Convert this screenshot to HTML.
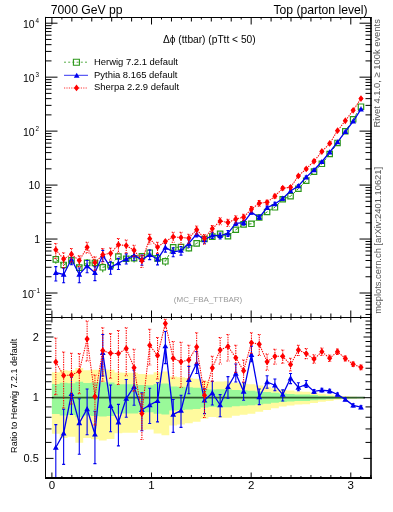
<!DOCTYPE html>
<html><head><meta charset="utf-8"><style>html,body{margin:0;padding:0;background:#fff;width:393px;height:512px;overflow:hidden;position:relative}</style></head>
<body>
<svg width="393" height="512" viewBox="0 0 393 512" style="position:absolute;left:0;top:0;will-change:transform">
<defs><clipPath id="cm"><rect x="45.5" y="17.5" width="326.0" height="300.0"/></clipPath><clipPath id="cr"><rect x="45.5" y="317.5" width="326.0" height="160.0"/></clipPath></defs>
<g clip-path="url(#cr)">
<path d="M51.90 372.23 L59.72 372.23 L59.72 370.15 L67.55 370.15 L67.55 370.83 L75.37 370.83 L75.37 368.09 L83.20 368.09 L83.20 370.21 L91.02 370.21 L91.02 369.69 L98.85 369.69 L98.85 369.09 L106.67 369.09 L106.67 369.76 L114.50 369.76 L114.50 372.45 L122.32 372.45 L122.32 372.76 L130.15 372.76 L130.15 372.70 L137.97 372.70 L137.97 374.12 L145.80 374.12 L145.80 374.43 L153.62 374.43 L153.62 372.32 L161.45 372.32 L161.45 371.46 L169.27 371.46 L169.27 376.61 L177.10 376.61 L177.10 377.21 L184.92 377.21 L184.92 377.90 L192.75 377.90 L192.75 378.80 L200.57 378.80 L200.57 380.75 L208.40 380.75 L208.40 381.83 L216.22 381.83 L216.22 381.43 L224.05 381.43 L224.05 381.35 L231.87 381.35 L231.87 382.74 L239.70 382.74 L239.70 383.43 L247.52 383.43 L247.52 384.13 L255.35 384.13 L255.35 385.58 L263.17 385.58 L263.17 386.85 L271.00 386.85 L271.00 388.22 L278.82 388.22 L278.82 389.68 L286.65 389.68 L286.65 390.48 L294.47 390.48 L294.47 391.45 L302.30 391.45 L302.30 391.63 L310.12 391.63 L310.12 392.60 L317.95 392.60 L317.95 393.82 L325.77 393.82 L325.77 394.55 L333.60 394.55 L333.60 395.58 L341.42 395.58 L341.42 396.21 L349.25 396.21 L349.25 396.80 L357.07 396.80 L357.07 397.05 L364.90 397.05 L364.90 398.35 L357.07 398.35 L357.07 398.60 L349.25 398.60 L349.25 399.21 L341.42 399.21 L341.42 399.87 L333.60 399.87 L333.60 400.97 L325.77 400.97 L325.77 401.76 L317.95 401.76 L317.95 403.11 L310.12 403.11 L310.12 404.22 L302.30 404.22 L302.30 404.43 L294.47 404.43 L294.47 405.57 L286.65 405.57 L286.65 406.53 L278.82 406.53 L278.82 408.34 L271.00 408.34 L271.00 410.09 L263.17 410.09 L263.17 411.77 L255.35 411.77 L255.35 413.76 L247.52 413.76 L247.52 414.76 L239.70 414.76 L239.70 415.75 L231.87 415.75 L231.87 417.83 L224.05 417.83 L224.05 417.70 L216.22 417.70 L216.22 417.10 L208.40 417.10 L208.40 418.74 L200.57 418.74 L200.57 421.84 L192.75 421.84 L192.75 423.32 L184.92 423.32 L184.92 424.50 L177.10 424.50 L177.10 425.54 L169.27 425.54 L169.27 435.34 L161.45 435.34 L161.45 433.59 L153.62 433.59 L153.62 429.49 L145.80 429.49 L145.80 430.08 L137.97 430.08 L137.97 432.83 L130.15 432.83 L130.15 432.71 L122.32 432.71 L122.32 433.33 L114.50 433.33 L114.50 438.98 L106.67 438.98 L106.67 440.46 L98.85 440.46 L98.85 439.14 L91.02 439.14 L91.02 438.00 L83.20 438.00 L83.20 442.77 L75.37 442.77 L75.37 436.67 L67.55 436.67 L67.55 438.12 L59.72 438.12 L59.72 433.76 L51.90 433.76Z" fill="#fffa9e"/>
<path d="M51.90 384.04 L59.72 384.04 L59.72 382.85 L67.55 382.85 L67.55 383.24 L75.37 383.24 L75.37 381.65 L83.20 381.65 L83.20 382.88 L91.02 382.88 L91.02 382.58 L98.85 382.58 L98.85 382.23 L106.67 382.23 L106.67 382.62 L114.50 382.62 L114.50 384.17 L122.32 384.17 L122.32 384.34 L130.15 384.34 L130.15 384.31 L137.97 384.31 L137.97 385.12 L145.80 385.12 L145.80 385.29 L153.62 385.29 L153.62 384.09 L161.45 384.09 L161.45 383.60 L169.27 383.60 L169.27 386.52 L177.10 386.52 L177.10 386.86 L184.92 386.86 L184.92 387.24 L192.75 387.24 L192.75 387.74 L200.57 387.74 L200.57 388.82 L208.40 388.82 L208.40 389.41 L216.22 389.41 L216.22 389.19 L224.05 389.19 L224.05 389.14 L231.87 389.14 L231.87 389.90 L239.70 389.90 L239.70 390.27 L247.52 390.27 L247.52 390.65 L255.35 390.65 L255.35 391.43 L263.17 391.43 L263.17 392.11 L271.00 392.11 L271.00 392.83 L278.82 392.83 L278.82 393.60 L286.65 393.60 L286.65 394.02 L294.47 394.02 L294.47 394.52 L302.30 394.52 L302.30 394.61 L310.12 394.61 L310.12 395.11 L317.95 395.11 L317.95 395.74 L325.77 395.74 L325.77 396.11 L333.60 396.11 L333.60 396.63 L341.42 396.63 L341.42 396.95 L349.25 396.95 L349.25 397.25 L357.07 397.25 L357.07 397.38 L364.90 397.38 L364.90 398.03 L357.07 398.03 L357.07 398.15 L349.25 398.15 L349.25 398.45 L341.42 398.45 L341.42 398.78 L333.60 398.78 L333.60 399.32 L325.77 399.32 L325.77 399.70 L317.95 399.70 L317.95 400.37 L310.12 400.37 L310.12 400.90 L302.30 400.90 L302.30 401.00 L294.47 401.00 L294.47 401.55 L286.65 401.55 L286.65 402.00 L278.82 402.00 L278.82 402.86 L271.00 402.86 L271.00 403.68 L263.17 403.68 L263.17 404.45 L255.35 404.45 L255.35 405.36 L247.52 405.36 L247.52 405.82 L239.70 405.82 L239.70 406.26 L231.87 406.26 L231.87 407.19 L224.05 407.19 L224.05 407.13 L216.22 407.13 L216.22 406.86 L208.40 406.86 L208.40 407.59 L200.57 407.59 L200.57 408.94 L192.75 408.94 L192.75 409.58 L184.92 409.58 L184.92 410.08 L177.10 410.08 L177.10 410.52 L169.27 410.52 L169.27 414.51 L161.45 414.51 L161.45 413.82 L153.62 413.82 L153.62 412.16 L145.80 412.16 L145.80 412.40 L137.97 412.40 L137.97 413.51 L130.15 413.51 L130.15 413.47 L122.32 413.47 L122.32 413.72 L114.50 413.72 L114.50 415.93 L106.67 415.93 L106.67 416.50 L98.85 416.50 L98.85 415.99 L91.02 415.99 L91.02 415.55 L83.20 415.55 L83.20 417.37 L75.37 417.37 L75.37 415.04 L67.55 415.04 L67.55 415.60 L59.72 415.60 L59.72 413.89 L51.90 413.89Z" fill="#99f999"/>
<path d="M51.90 397.7H364.90" stroke="#2f5a2f" stroke-width="1.7"/>
</g>
<g clip-path="url(#cr)">
<path d="M55.81 424.60V478.60M54.31 424.60h3.0M54.31 478.60h3.0M63.64 409.30V464.40M62.14 409.30h3.0M62.14 464.40h3.0M71.46 377.14V414.40M69.96 377.14h3.0M69.96 414.40h3.0M79.29 398.80V454.30M77.79 398.80h3.0M77.79 454.30h3.0M87.11 389.00V434.70M85.61 389.00h3.0M85.61 434.70h3.0M94.94 411.30V463.60M93.44 411.30h3.0M93.44 463.60h3.0M102.76 334.50V375.96M101.26 334.50h3.0M101.26 375.96h3.0M110.59 385.00V431.70M109.09 385.00h3.0M109.09 431.70h3.0M118.41 404.40V445.90M116.91 404.40h3.0M116.91 445.90h3.0M126.24 379.50V417.30M124.74 379.50h3.0M124.74 417.30h3.0M134.06 370.30V405.20M132.56 370.30h3.0M132.56 405.20h3.0M141.89 392.71V430.80M140.39 392.71h3.0M140.39 430.80h3.0M149.71 388.30V423.50M148.21 388.30h3.0M148.21 423.50h3.0M157.54 382.80V421.90M156.04 382.80h3.0M156.04 421.90h3.0M165.36 331.50V363.63M163.86 331.50h3.0M163.86 363.63h3.0M173.19 399.48V432.40M171.69 399.48h3.0M171.69 432.40h3.0M181.01 395.30V427.40M179.51 395.30h3.0M179.51 427.40h3.0M188.84 366.40V393.80M187.34 366.40h3.0M187.34 393.80h3.0M196.66 351.60V373.50M195.16 351.60h3.0M195.16 373.50h3.0M204.49 388.76V413.60M202.99 388.76h3.0M202.99 413.60h3.0M212.31 381.30V405.00M210.81 381.30h3.0M210.81 405.00h3.0M220.14 394.64V416.75M218.64 394.64h3.0M218.64 416.75h3.0M227.96 376.60V398.23M226.46 376.60h3.0M226.46 398.23h3.0M235.79 364.00V382.00M234.29 364.00h3.0M234.29 382.00h3.0M243.61 382.80V400.30M242.11 382.80h3.0M242.11 400.30h3.0M251.44 346.10V361.75M249.94 346.10h3.0M249.94 361.75h3.0M259.26 389.00V404.60M257.76 389.00h3.0M257.76 404.60h3.0M267.09 375.80V388.30M265.59 375.80h3.0M265.59 388.30h3.0M274.91 379.00V390.70M273.41 379.00h3.0M273.41 390.70h3.0M282.74 389.90V401.00M281.24 389.90h3.0M281.24 401.00h3.0M290.56 373.50V383.60M289.06 373.50h3.0M289.06 383.60h3.0M298.39 382.80V390.70M296.89 382.80h3.0M296.89 390.70h3.0M306.21 380.50V387.50M304.71 380.50h3.0M304.71 387.50h3.0M314.03 389.50V393.34M312.53 389.50h3.0M312.53 393.34h3.0M321.86 388.30V391.94M320.36 388.30h3.0M320.36 391.94h3.0M329.68 389.20V392.84M328.18 389.20h3.0M328.18 392.84h3.0M337.51 393.00V396.03M336.01 393.00h3.0M336.01 396.03h3.0M345.33 398.00V400.82M343.83 398.00h3.0M343.83 400.82h3.0M353.16 403.80V406.83M351.66 403.80h3.0M351.66 406.83h3.0M360.98 405.70V408.73M359.48 405.70h3.0M359.48 408.73h3.0" stroke="#0000ee" stroke-width="1.1" fill="none"/>
<path d="M55.81 447.50 L63.64 433.20 L71.46 393.80 L79.29 423.00 L87.11 409.00 L94.94 434.30 L102.76 352.80 L110.59 405.80 L118.41 422.20 L126.24 398.60 L134.06 386.75 L141.89 409.70 L149.71 405.00 L157.54 400.80 L165.36 346.10 L173.19 414.40 L181.01 410.50 L188.84 379.70 L196.66 363.30 L204.49 400.30 L212.31 393.00 L220.14 405.00 L227.96 386.75 L235.79 373.50 L243.61 391.40 L251.44 354.70 L259.26 397.00 L267.09 382.00 L274.91 385.20 L282.74 394.60 L290.56 378.20 L298.39 387.50 L306.21 384.40 L314.03 391.40 L321.86 390.10 L329.68 391.00 L337.51 394.50 L345.33 399.40 L353.16 405.30 L360.98 407.20" stroke="#0000ee" stroke-width="1.3" fill="none"/>
<path d="M52.91 449.76L58.71 449.76L55.81 444.60ZM60.74 435.46L66.54 435.46L63.64 430.30ZM68.56 396.06L74.36 396.06L71.46 390.90ZM76.39 425.26L82.19 425.26L79.29 420.10ZM84.21 411.26L90.01 411.26L87.11 406.10ZM92.04 436.56L97.84 436.56L94.94 431.40ZM99.86 355.06L105.66 355.06L102.76 349.90ZM107.69 408.06L113.49 408.06L110.59 402.90ZM115.51 424.46L121.31 424.46L118.41 419.30ZM123.34 400.86L129.14 400.86L126.24 395.70ZM131.16 389.01L136.96 389.01L134.06 383.85ZM138.99 411.96L144.79 411.96L141.89 406.80ZM146.81 407.26L152.61 407.26L149.71 402.10ZM154.64 403.06L160.44 403.06L157.54 397.90ZM162.46 348.36L168.26 348.36L165.36 343.20ZM170.29 416.66L176.09 416.66L173.19 411.50ZM178.11 412.76L183.91 412.76L181.01 407.60ZM185.94 381.96L191.74 381.96L188.84 376.80ZM193.76 365.56L199.56 365.56L196.66 360.40ZM201.59 402.56L207.39 402.56L204.49 397.40ZM209.41 395.26L215.21 395.26L212.31 390.10ZM217.24 407.26L223.04 407.26L220.14 402.10ZM225.06 389.01L230.86 389.01L227.96 383.85ZM232.89 375.76L238.69 375.76L235.79 370.60ZM240.71 393.66L246.51 393.66L243.61 388.50ZM248.54 356.96L254.34 356.96L251.44 351.80ZM256.36 399.26L262.16 399.26L259.26 394.10ZM264.19 384.26L269.99 384.26L267.09 379.10ZM272.01 387.46L277.81 387.46L274.91 382.30ZM279.84 396.86L285.64 396.86L282.74 391.70ZM287.66 380.46L293.46 380.46L290.56 375.30ZM295.49 389.76L301.29 389.76L298.39 384.60ZM303.31 386.66L309.11 386.66L306.21 381.50ZM311.13 393.66L316.93 393.66L314.03 388.50ZM318.96 392.36L324.76 392.36L321.86 387.20ZM326.78 393.26L332.58 393.26L329.68 388.10ZM334.61 396.76L340.41 396.76L337.51 391.60ZM342.43 401.66L348.23 401.66L345.33 396.50ZM350.26 407.56L356.06 407.56L353.16 402.40ZM358.08 409.46L363.88 409.46L360.98 404.30Z" fill="#0000ee"/>
<path d="M55.81 338.00V394.60M54.31 338.00h3.0M54.31 394.60h3.0M63.64 352.00V408.01M62.14 352.00h3.0M62.14 408.01h3.0M71.46 353.20V404.09M69.96 353.20h3.0M69.96 404.09h3.0M79.29 353.60V393.80M77.79 353.60h3.0M77.79 393.80h3.0M87.11 321.00V361.00M85.61 321.00h3.0M85.61 361.00h3.0M94.94 375.00V425.06M93.44 375.00h3.0M93.44 425.06h3.0M102.76 327.70V381.30M101.26 327.70h3.0M101.26 381.30h3.0M110.59 333.60V378.20M109.09 333.60h3.0M109.09 378.20h3.0M118.41 330.50V384.40M116.91 330.50h3.0M116.91 384.40h3.0M126.24 327.70V375.80M124.74 327.70h3.0M124.74 375.80h3.0M134.06 349.25V391.11M132.56 349.25h3.0M132.56 391.11h3.0M141.89 393.70V439.40M140.39 393.70h3.0M140.39 439.40h3.0M149.71 329.25V364.90M148.21 329.25h3.0M148.21 364.90h3.0M157.54 337.50V379.00M156.04 337.50h3.0M156.04 379.00h3.0M165.36 319.22V328.00M163.86 319.22h3.0M163.86 328.00h3.0M173.19 341.40V378.20M171.69 341.40h3.0M171.69 378.20h3.0M181.01 342.20V387.50M179.51 342.20h3.0M179.51 387.50h3.0M188.84 345.30V379.00M187.34 345.30h3.0M187.34 379.00h3.0M196.66 332.80V363.30M195.16 332.80h3.0M195.16 363.30h3.0M204.49 381.30V417.50M202.99 381.30h3.0M202.99 417.50h3.0M212.31 356.30V381.30M210.81 356.30h3.0M210.81 381.30h3.0M220.14 337.50V364.00M218.64 337.50h3.0M218.64 364.00h3.0M227.96 334.40V361.00M226.46 334.40h3.0M226.46 361.00h3.0M235.79 345.30V372.39M234.29 345.30h3.0M234.29 372.39h3.0M243.61 359.90V382.00M242.11 359.90h3.0M242.11 382.00h3.0M251.44 332.80V353.20M249.94 332.80h3.0M249.94 353.20h3.0M259.26 334.40V355.50M257.76 334.40h3.0M257.76 355.50h3.0M267.09 354.00V370.30M265.59 354.00h3.0M265.59 370.30h3.0M274.91 349.25V364.10M273.41 349.25h3.0M273.41 364.10h3.0M282.74 350.00V363.30M281.24 350.00h3.0M281.24 363.30h3.0M290.56 358.30V371.00M289.06 358.30h3.0M289.06 371.00h3.0M298.39 345.30V355.50M296.89 345.30h3.0M296.89 355.50h3.0M306.21 348.50V358.60M304.71 348.50h3.0M304.71 358.60h3.0M314.03 354.70V363.30M312.53 354.70h3.0M312.53 363.30h3.0M321.86 348.00V355.56M320.36 348.00h3.0M320.36 355.56h3.0M329.68 355.00V361.52M328.18 355.00h3.0M328.18 361.52h3.0M337.51 349.00V354.49M336.01 349.00h3.0M336.01 354.49h3.0M345.33 356.00V360.87M343.83 356.00h3.0M343.83 360.87h3.0M353.16 362.00V366.46M351.66 362.00h3.0M351.66 366.46h3.0M360.98 365.00V369.66M359.48 365.00h3.0M359.48 369.66h3.0" stroke="#ff0000" stroke-width="1.05" stroke-dasharray="1.4 1.0" fill="none"/>
<path d="M55.81 362.00 L63.64 375.60 L71.46 375.00 L79.29 371.40 L87.11 339.00 L94.94 396.50 L102.76 350.60 L110.59 353.20 L118.41 353.60 L126.24 348.50 L134.06 367.70 L141.89 413.60 L149.71 345.30 L157.54 355.50 L165.36 323.50 L173.19 358.30 L181.01 361.75 L188.84 359.90 L196.66 346.90 L204.49 395.30 L212.31 368.00 L220.14 350.00 L227.96 346.40 L235.79 357.80 L243.61 370.80 L251.44 342.70 L259.26 344.25 L267.09 361.75 L274.91 356.30 L282.74 356.30 L290.56 364.60 L298.39 350.00 L306.21 353.60 L314.03 359.00 L321.86 351.70 L329.68 358.20 L337.51 351.70 L345.33 358.40 L353.16 364.20 L360.98 367.30" stroke="#ff0000" stroke-width="1.05" stroke-dasharray="1.4 1.0" fill="none"/>
<path d="M55.81 358.60L58.41 362.00L55.81 365.40L53.21 362.00ZM63.64 372.20L66.24 375.60L63.64 379.00L61.04 375.60ZM71.46 371.60L74.06 375.00L71.46 378.40L68.86 375.00ZM79.29 368.00L81.89 371.40L79.29 374.80L76.69 371.40ZM87.11 335.60L89.71 339.00L87.11 342.40L84.51 339.00ZM94.94 393.10L97.54 396.50L94.94 399.90L92.34 396.50ZM102.76 347.20L105.36 350.60L102.76 354.00L100.16 350.60ZM110.59 349.80L113.19 353.20L110.59 356.60L107.99 353.20ZM118.41 350.20L121.01 353.60L118.41 357.00L115.81 353.60ZM126.24 345.10L128.84 348.50L126.24 351.90L123.64 348.50ZM134.06 364.30L136.66 367.70L134.06 371.10L131.46 367.70ZM141.89 410.20L144.49 413.60L141.89 417.00L139.29 413.60ZM149.71 341.90L152.31 345.30L149.71 348.70L147.11 345.30ZM157.54 352.10L160.14 355.50L157.54 358.90L154.94 355.50ZM165.36 320.10L167.96 323.50L165.36 326.90L162.76 323.50ZM173.19 354.90L175.79 358.30L173.19 361.70L170.59 358.30ZM181.01 358.35L183.61 361.75L181.01 365.15L178.41 361.75ZM188.84 356.50L191.44 359.90L188.84 363.30L186.24 359.90ZM196.66 343.50L199.26 346.90L196.66 350.30L194.06 346.90ZM204.49 391.90L207.09 395.30L204.49 398.70L201.89 395.30ZM212.31 364.60L214.91 368.00L212.31 371.40L209.71 368.00ZM220.14 346.60L222.74 350.00L220.14 353.40L217.54 350.00ZM227.96 343.00L230.56 346.40L227.96 349.80L225.36 346.40ZM235.79 354.40L238.39 357.80L235.79 361.20L233.19 357.80ZM243.61 367.40L246.21 370.80L243.61 374.20L241.01 370.80ZM251.44 339.30L254.04 342.70L251.44 346.10L248.84 342.70ZM259.26 340.85L261.86 344.25L259.26 347.65L256.66 344.25ZM267.09 358.35L269.69 361.75L267.09 365.15L264.49 361.75ZM274.91 352.90L277.51 356.30L274.91 359.70L272.31 356.30ZM282.74 352.90L285.34 356.30L282.74 359.70L280.14 356.30ZM290.56 361.20L293.16 364.60L290.56 368.00L287.96 364.60ZM298.39 346.60L300.99 350.00L298.39 353.40L295.79 350.00ZM306.21 350.20L308.81 353.60L306.21 357.00L303.61 353.60ZM314.03 355.60L316.63 359.00L314.03 362.40L311.43 359.00ZM321.86 348.30L324.46 351.70L321.86 355.10L319.26 351.70ZM329.68 354.80L332.28 358.20L329.68 361.60L327.08 358.20ZM337.51 348.30L340.11 351.70L337.51 355.10L334.91 351.70ZM345.33 355.00L347.93 358.40L345.33 361.80L342.73 358.40ZM353.16 360.80L355.76 364.20L353.16 367.60L350.56 364.20ZM360.98 363.90L363.58 367.30L360.98 370.70L358.38 367.30Z" fill="#ff0000"/>
</g>
<g clip-path="url(#cm)">
<path d="M55.81 255.72V256.68M55.81 262.08V263.71M63.64 260.96V262.24M63.64 267.64V269.73M71.46 256.47V257.64M71.46 263.04V264.98M79.29 263.36V264.96M79.29 270.36V272.92M87.11 258.90V260.16M87.11 265.56V267.64M94.94 258.89V260.24M94.94 265.64V267.84M102.76 263.17V264.61M102.76 270.01V272.34M110.59 261.18V262.51M110.59 267.91V270.09M118.41 252.93V253.85M118.41 259.25V260.84M126.24 255.20V256.08M126.24 261.48V263.00M134.06 254.67V255.55M134.06 260.95V262.49M141.89 253.04V253.71M141.89 259.11V260.35M149.71 249.37V249.99M149.71 255.39V256.56M157.54 254.75V255.69M157.54 261.09V262.70M165.36 257.52V258.59M165.36 263.99V265.79M173.19 244.40V244.69M173.19 250.09V250.82M181.01 244.26V244.47M181.01 249.87V250.48M188.84 245.41V245.51M188.84 250.91V251.39M196.66 246.03V246.34" stroke="#2b9718" stroke-width="1.1" fill="none"/>
<path d="M55.81 259.38 L63.64 264.94 L71.46 260.34 L79.29 267.66 L87.11 262.86 L94.94 262.94 L102.76 267.31 L110.59 265.21 L118.41 256.55 L126.24 258.78 L134.06 258.25 L141.89 256.41 L149.71 252.69 L157.54 258.39 L165.36 261.29 L173.19 247.39 L181.01 247.17 L188.84 248.21 L196.66 243.33 L204.49 239.02 L212.31 236.60 L220.14 233.80 L227.96 236.22 L235.79 229.75 L243.61 224.40 L251.44 223.81 L259.26 217.50 L267.09 211.94 L274.91 207.28 L282.74 199.27 L290.56 196.19 L298.39 188.70 L306.21 180.69 L314.03 171.61 L321.86 163.82 L329.68 154.02 L337.51 142.96 L345.33 131.25 L353.16 119.31 L360.98 106.70" stroke="#2b9718" stroke-width="1" stroke-dasharray="3 2" fill="none"/>
<path d="M53.11 256.68h5.40v5.40h-5.40ZM60.94 262.24h5.40v5.40h-5.40ZM68.76 257.64h5.40v5.40h-5.40ZM76.59 264.96h5.40v5.40h-5.40ZM84.41 260.16h5.40v5.40h-5.40ZM92.24 260.24h5.40v5.40h-5.40ZM100.06 264.61h5.40v5.40h-5.40ZM107.89 262.51h5.40v5.40h-5.40ZM115.71 253.85h5.40v5.40h-5.40ZM123.54 256.08h5.40v5.40h-5.40ZM131.36 255.55h5.40v5.40h-5.40ZM139.19 253.71h5.40v5.40h-5.40ZM147.01 249.99h5.40v5.40h-5.40ZM154.84 255.69h5.40v5.40h-5.40ZM162.66 258.59h5.40v5.40h-5.40ZM170.49 244.69h5.40v5.40h-5.40ZM178.31 244.47h5.40v5.40h-5.40ZM186.14 245.51h5.40v5.40h-5.40ZM193.96 240.63h5.40v5.40h-5.40ZM201.79 236.32h5.40v5.40h-5.40ZM209.61 233.90h5.40v5.40h-5.40ZM217.44 231.10h5.40v5.40h-5.40ZM225.26 233.52h5.40v5.40h-5.40ZM233.09 227.05h5.40v5.40h-5.40ZM240.91 221.70h5.40v5.40h-5.40ZM248.74 221.11h5.40v5.40h-5.40ZM256.56 214.80h5.40v5.40h-5.40ZM264.39 209.24h5.40v5.40h-5.40ZM272.21 204.58h5.40v5.40h-5.40ZM280.04 196.57h5.40v5.40h-5.40ZM287.86 193.49h5.40v5.40h-5.40ZM295.69 186.00h5.40v5.40h-5.40ZM303.51 177.99h5.40v5.40h-5.40ZM311.33 168.91h5.40v5.40h-5.40ZM319.16 161.12h5.40v5.40h-5.40ZM326.98 151.32h5.40v5.40h-5.40ZM334.81 140.26h5.40v5.40h-5.40ZM342.63 128.55h5.40v5.40h-5.40ZM350.46 116.61h5.40v5.40h-5.40ZM358.28 104.00h5.40v5.40h-5.40Z" stroke="#2b9718" stroke-width="1.2" fill="none"/>
<path d="M55.81 266.58V281.03M54.31 266.58h3.0M54.31 281.03h3.0M63.64 268.04V282.79M62.14 268.04h3.0M62.14 282.79h3.0M71.46 254.84V264.81M69.96 254.84h3.0M69.96 264.81h3.0M79.29 267.95V282.81M77.79 267.95h3.0M77.79 282.81h3.0M87.11 260.53V272.77M85.61 260.53h3.0M85.61 272.77h3.0M94.94 266.58V280.58M93.44 266.58h3.0M93.44 280.58h3.0M102.76 250.39V261.49M101.26 250.39h3.0M101.26 261.49h3.0M110.59 261.81V274.31M109.09 261.81h3.0M109.09 274.31h3.0M118.41 258.34V269.45M116.91 258.34h3.0M116.91 269.45h3.0M126.24 253.90V264.02M124.74 253.90h3.0M124.74 264.02h3.0M134.06 250.92V260.26M132.56 250.92h3.0M132.56 260.26h3.0M141.89 255.08V265.27M140.39 255.08h3.0M140.39 265.27h3.0M149.71 250.17V259.60M148.21 250.17h3.0M148.21 259.60h3.0M157.54 254.40V264.87M156.04 254.40h3.0M156.04 264.87h3.0M165.36 243.57V252.17M163.86 243.57h3.0M163.86 252.17h3.0M173.19 247.87V256.68M171.69 247.87h3.0M171.69 256.68h3.0M181.01 246.52V255.11M179.51 246.52h3.0M179.51 255.11h3.0M188.84 239.83V247.17M187.34 239.83h3.0M187.34 247.17h3.0M196.66 231.00V236.86M195.16 231.00h3.0M195.16 236.86h3.0M204.49 236.62V243.27M202.99 236.62h3.0M202.99 243.27h3.0M212.31 232.21V238.56M210.81 232.21h3.0M210.81 238.56h3.0M220.14 232.99V238.90M218.64 232.99h3.0M218.64 238.90h3.0M227.96 230.57V236.36M226.46 230.57h3.0M226.46 236.36h3.0M235.79 220.73V225.55M234.29 220.73h3.0M234.29 225.55h3.0M243.61 220.41V225.09M242.11 220.41h3.0M242.11 225.09h3.0M251.44 210.00V214.19M249.94 210.00h3.0M249.94 214.19h3.0M259.26 215.17V219.34M257.76 215.17h3.0M257.76 219.34h3.0M267.09 206.08V209.43M265.59 206.08h3.0M265.59 209.43h3.0M274.91 202.27V205.40M273.41 202.27h3.0M273.41 205.40h3.0M282.74 197.18V200.15M281.24 197.18h3.0M281.24 200.15h3.0M290.56 189.72V192.42M289.06 189.72h3.0M289.06 192.42h3.0M298.39 184.71V186.83M296.89 184.71h3.0M296.89 186.83h3.0M306.21 176.08V177.96M304.71 176.08h3.0M304.71 177.96h3.0M314.03 169.42V170.45M312.53 169.42h3.0M312.53 170.45h3.0M321.86 161.30V162.27M320.36 161.30h3.0M320.36 162.27h3.0M329.68 151.75V152.72M328.18 151.75h3.0M328.18 152.72h3.0M337.51 141.70V142.51M336.01 141.70h3.0M336.01 142.51h3.0M345.33 131.33V132.09M343.83 131.33h3.0M343.83 132.09h3.0M353.16 120.94V121.75M351.66 120.94h3.0M351.66 121.75h3.0M360.98 108.84V109.65M359.48 108.84h3.0M359.48 109.65h3.0" stroke="#0000ee" stroke-width="1.1" fill="none"/>
<path d="M55.81 272.70 L63.64 274.44 L71.46 259.30 L79.29 274.43 L87.11 265.89 L94.94 272.74 L102.76 255.29 L110.59 267.38 L118.41 263.11 L126.24 259.02 L134.06 255.32 L141.89 259.62 L149.71 254.64 L157.54 259.22 L165.36 247.48 L173.19 251.86 L181.01 250.59 L188.84 243.39 L196.66 234.13 L204.49 239.71 L212.31 235.34 L220.14 235.76 L227.96 233.29 L235.79 223.27 L243.61 222.71 L251.44 212.30 L259.26 217.31 L267.09 207.74 L274.91 203.93 L282.74 198.44 L290.56 190.97 L298.39 185.97 L306.21 177.13 L314.03 169.93 L321.86 161.78 L329.68 152.23 L337.51 142.10 L345.33 131.71 L353.16 121.34 L360.98 109.24" stroke="#0000ee" stroke-width="1.3" fill="none"/>
<path d="M52.91 274.97L58.71 274.97L55.81 269.80ZM60.74 276.70L66.54 276.70L63.64 271.54ZM68.56 261.56L74.36 261.56L71.46 256.40ZM76.39 276.69L82.19 276.69L79.29 271.53ZM84.21 268.15L90.01 268.15L87.11 262.99ZM92.04 275.00L97.84 275.00L94.94 269.84ZM99.86 257.55L105.66 257.55L102.76 252.39ZM107.69 269.64L113.49 269.64L110.59 264.48ZM115.51 265.37L121.31 265.37L118.41 260.21ZM123.34 261.28L129.14 261.28L126.24 256.12ZM131.16 257.58L136.96 257.58L134.06 252.42ZM138.99 261.88L144.79 261.88L141.89 256.72ZM146.81 256.91L152.61 256.91L149.71 251.74ZM154.64 261.48L160.44 261.48L157.54 256.32ZM162.46 249.74L168.26 249.74L165.36 244.58ZM170.29 254.12L176.09 254.12L173.19 248.96ZM178.11 252.85L183.91 252.85L181.01 247.69ZM185.94 245.66L191.74 245.66L188.84 240.49ZM193.76 236.39L199.56 236.39L196.66 231.23ZM201.59 241.97L207.39 241.97L204.49 236.81ZM209.41 237.61L215.21 237.61L212.31 232.44ZM217.24 238.02L223.04 238.02L220.14 232.86ZM225.06 235.55L230.86 235.55L227.96 230.39ZM232.89 225.54L238.69 225.54L235.79 220.37ZM240.71 224.97L246.51 224.97L243.61 219.81ZM248.54 214.56L254.34 214.56L251.44 209.40ZM256.36 219.57L262.16 219.57L259.26 214.41ZM264.19 210.00L269.99 210.00L267.09 204.84ZM272.01 206.19L277.81 206.19L274.91 201.03ZM279.84 200.70L285.64 200.70L282.74 195.54ZM287.66 193.24L293.46 193.24L290.56 188.07ZM295.49 188.23L301.29 188.23L298.39 183.07ZM303.31 179.39L309.11 179.39L306.21 174.23ZM311.13 172.19L316.93 172.19L314.03 167.03ZM318.96 164.04L324.76 164.04L321.86 158.88ZM326.78 154.49L332.58 154.49L329.68 149.33ZM334.61 144.36L340.41 144.36L337.51 139.20ZM342.43 133.97L348.23 133.97L345.33 128.81ZM350.26 123.61L356.06 123.61L353.16 118.44ZM358.08 111.50L363.88 111.50L360.98 106.34Z" fill="#0000ee"/>
<path d="M55.81 243.40V258.55M54.31 243.40h3.0M54.31 258.55h3.0M63.64 252.71V267.70M62.14 252.71h3.0M62.14 267.70h3.0M71.46 248.43V262.05M69.96 248.43h3.0M69.96 262.05h3.0M79.29 255.85V266.61M77.79 255.85h3.0M77.79 266.61h3.0M87.11 242.33V253.04M85.61 242.33h3.0M85.61 253.04h3.0M94.94 256.87V270.26M93.44 256.87h3.0M93.44 270.26h3.0M102.76 248.57V262.92M101.26 248.57h3.0M101.26 262.92h3.0M110.59 248.06V259.99M109.09 248.06h3.0M109.09 259.99h3.0M118.41 238.56V252.99M116.91 238.56h3.0M116.91 252.99h3.0M126.24 240.04V252.91M124.74 240.04h3.0M124.74 252.91h3.0M134.06 245.29V256.49M132.56 245.29h3.0M132.56 256.49h3.0M141.89 255.34V267.57M140.39 255.34h3.0M140.39 267.57h3.0M149.71 234.37V243.91M148.21 234.37h3.0M148.21 243.91h3.0M157.54 242.28V253.38M156.04 242.28h3.0M156.04 253.38h3.0M165.36 240.28V242.63M163.86 240.28h3.0M163.86 242.63h3.0M173.19 232.32V242.17M171.69 232.32h3.0M171.69 242.17h3.0M181.01 232.31V244.44M179.51 232.31h3.0M179.51 244.44h3.0M188.84 234.19V243.21M187.34 234.19h3.0M187.34 243.21h3.0M196.66 225.96V234.13M195.16 225.96h3.0M195.16 234.13h3.0M204.49 234.63V244.32M202.99 234.63h3.0M202.99 244.32h3.0M212.31 225.52V232.21M210.81 225.52h3.0M210.81 232.21h3.0M220.14 217.69V224.78M218.64 217.69h3.0M218.64 224.78h3.0M227.96 219.28V226.40M226.46 219.28h3.0M226.46 226.40h3.0M235.79 215.73V222.98M234.29 215.73h3.0M234.29 222.98h3.0M243.61 214.28V220.19M242.11 214.28h3.0M242.11 220.19h3.0M251.44 206.44V211.90M249.94 206.44h3.0M249.94 211.90h3.0M259.26 200.56V206.20M257.76 200.56h3.0M257.76 206.20h3.0M267.09 200.24V204.61M265.59 200.24h3.0M265.59 204.61h3.0M274.91 194.31V198.28M273.41 194.31h3.0M273.41 198.28h3.0M282.74 186.50V190.06M281.24 186.50h3.0M281.24 190.06h3.0M290.56 185.65V189.05M289.06 185.65h3.0M289.06 189.05h3.0M298.39 174.67V177.40M296.89 174.67h3.0M296.89 177.40h3.0M306.21 167.52V170.22M304.71 167.52h3.0M304.71 170.22h3.0M314.03 160.11V162.41M312.53 160.11h3.0M312.53 162.41h3.0M321.86 150.51V152.54M320.36 150.51h3.0M320.36 152.54h3.0M329.68 142.59V144.34M328.18 142.59h3.0M328.18 144.34h3.0M337.51 129.92V131.39M336.01 129.92h3.0M336.01 131.39h3.0M345.33 120.09V121.40M343.83 120.09h3.0M343.83 121.40h3.0M353.16 109.76V110.95M351.66 109.76h3.0M351.66 110.95h3.0M360.98 97.95V99.19M359.48 97.95h3.0M359.48 99.19h3.0" stroke="#ff0000" stroke-width="1.05" stroke-dasharray="1.4 1.0" fill="none"/>
<path d="M55.81 249.82 L63.64 259.02 L71.46 254.26 L79.29 260.62 L87.11 247.15 L94.94 262.62 L102.76 254.70 L110.59 253.30 L118.41 244.74 L126.24 245.61 L134.06 250.22 L141.89 260.67 L149.71 238.67 L157.54 247.09 L165.36 241.43 L173.19 236.85 L181.01 237.54 L188.84 238.09 L196.66 229.74 L204.49 238.37 L212.31 228.65 L220.14 221.04 L227.96 222.49 L235.79 219.07 L243.61 217.20 L251.44 209.09 L259.26 203.19 L267.09 202.32 L274.91 196.19 L282.74 188.19 L290.56 187.33 L298.39 175.93 L306.21 168.88 L314.03 161.26 L321.86 151.50 L329.68 143.45 L337.51 130.64 L345.33 120.74 L353.16 110.34 L360.98 98.56" stroke="#ff0000" stroke-width="1.05" stroke-dasharray="1.4 1.0" fill="none"/>
<path d="M55.81 246.42L58.41 249.82L55.81 253.22L53.21 249.82ZM63.64 255.62L66.24 259.02L63.64 262.42L61.04 259.02ZM71.46 250.86L74.06 254.26L71.46 257.66L68.86 254.26ZM79.29 257.22L81.89 260.62L79.29 264.02L76.69 260.62ZM87.11 243.75L89.71 247.15L87.11 250.55L84.51 247.15ZM94.94 259.22L97.54 262.62L94.94 266.02L92.34 262.62ZM102.76 251.30L105.36 254.70L102.76 258.10L100.16 254.70ZM110.59 249.90L113.19 253.30L110.59 256.70L107.99 253.30ZM118.41 241.34L121.01 244.74L118.41 248.14L115.81 244.74ZM126.24 242.21L128.84 245.61L126.24 249.01L123.64 245.61ZM134.06 246.82L136.66 250.22L134.06 253.62L131.46 250.22ZM141.89 257.27L144.49 260.67L141.89 264.07L139.29 260.67ZM149.71 235.27L152.31 238.67L149.71 242.07L147.11 238.67ZM157.54 243.69L160.14 247.09L157.54 250.49L154.94 247.09ZM165.36 238.03L167.96 241.43L165.36 244.83L162.76 241.43ZM173.19 233.45L175.79 236.85L173.19 240.25L170.59 236.85ZM181.01 234.14L183.61 237.54L181.01 240.94L178.41 237.54ZM188.84 234.69L191.44 238.09L188.84 241.49L186.24 238.09ZM196.66 226.34L199.26 229.74L196.66 233.14L194.06 229.74ZM204.49 234.97L207.09 238.37L204.49 241.77L201.89 238.37ZM212.31 225.25L214.91 228.65L212.31 232.05L209.71 228.65ZM220.14 217.64L222.74 221.04L220.14 224.44L217.54 221.04ZM227.96 219.09L230.56 222.49L227.96 225.89L225.36 222.49ZM235.79 215.67L238.39 219.07L235.79 222.47L233.19 219.07ZM243.61 213.80L246.21 217.20L243.61 220.60L241.01 217.20ZM251.44 205.69L254.04 209.09L251.44 212.49L248.84 209.09ZM259.26 199.79L261.86 203.19L259.26 206.59L256.66 203.19ZM267.09 198.92L269.69 202.32L267.09 205.72L264.49 202.32ZM274.91 192.79L277.51 196.19L274.91 199.59L272.31 196.19ZM282.74 184.79L285.34 188.19L282.74 191.59L280.14 188.19ZM290.56 183.93L293.16 187.33L290.56 190.73L287.96 187.33ZM298.39 172.53L300.99 175.93L298.39 179.33L295.79 175.93ZM306.21 165.48L308.81 168.88L306.21 172.28L303.61 168.88ZM314.03 157.86L316.63 161.26L314.03 164.66L311.43 161.26ZM321.86 148.10L324.46 151.50L321.86 154.90L319.26 151.50ZM329.68 140.05L332.28 143.45L329.68 146.85L327.08 143.45ZM337.51 127.24L340.11 130.64L337.51 134.04L334.91 130.64ZM345.33 117.34L347.93 120.74L345.33 124.14L342.73 120.74ZM353.16 106.94L355.76 110.34L353.16 113.74L350.56 110.34ZM360.98 95.16L363.58 98.56L360.98 101.96L358.38 98.56Z" fill="#ff0000"/>
</g>
<g stroke="#000" stroke-width="1" fill="none">
<path d="M45.5 17.5H371.6M45.5 317.5H371.6M45.5 16.9V479"/>
<path d="M371 16.9V479" stroke-width="1.7" stroke="#111"/>
<path d="M45 478H372" stroke-width="2"/>
<path d="M51.90 17.5v7M51.90 317.5v-7M51.90 317.5v5M51.90 477.5v-5M61.86 17.5v2M61.86 317.5v-2M61.86 317.5v1.5M61.86 477.5v-1.5M71.83 17.5v4M71.83 317.5v-4M71.83 317.5v2.5M71.83 477.5v-2.5M81.79 17.5v2M81.79 317.5v-2M81.79 317.5v1.5M81.79 477.5v-1.5M91.75 17.5v4M91.75 317.5v-4M91.75 317.5v2.5M91.75 477.5v-2.5M101.72 17.5v2M101.72 317.5v-2M101.72 317.5v1.5M101.72 477.5v-1.5M111.68 17.5v4M111.68 317.5v-4M111.68 317.5v2.5M111.68 477.5v-2.5M121.64 17.5v2M121.64 317.5v-2M121.64 317.5v1.5M121.64 477.5v-1.5M131.60 17.5v4M131.60 317.5v-4M131.60 317.5v2.5M131.60 477.5v-2.5M141.57 17.5v2M141.57 317.5v-2M141.57 317.5v1.5M141.57 477.5v-1.5M151.53 17.5v7M151.53 317.5v-7M151.53 317.5v5M151.53 477.5v-5M161.49 17.5v2M161.49 317.5v-2M161.49 317.5v1.5M161.49 477.5v-1.5M171.46 17.5v4M171.46 317.5v-4M171.46 317.5v2.5M171.46 477.5v-2.5M181.42 17.5v2M181.42 317.5v-2M181.42 317.5v1.5M181.42 477.5v-1.5M191.38 17.5v4M191.38 317.5v-4M191.38 317.5v2.5M191.38 477.5v-2.5M201.34 17.5v2M201.34 317.5v-2M201.34 317.5v1.5M201.34 477.5v-1.5M211.31 17.5v4M211.31 317.5v-4M211.31 317.5v2.5M211.31 477.5v-2.5M221.27 17.5v2M221.27 317.5v-2M221.27 317.5v1.5M221.27 477.5v-1.5M231.23 17.5v4M231.23 317.5v-4M231.23 317.5v2.5M231.23 477.5v-2.5M241.20 17.5v2M241.20 317.5v-2M241.20 317.5v1.5M241.20 477.5v-1.5M251.16 17.5v7M251.16 317.5v-7M251.16 317.5v5M251.16 477.5v-5M261.12 17.5v2M261.12 317.5v-2M261.12 317.5v1.5M261.12 477.5v-1.5M271.09 17.5v4M271.09 317.5v-4M271.09 317.5v2.5M271.09 477.5v-2.5M281.05 17.5v2M281.05 317.5v-2M281.05 317.5v1.5M281.05 477.5v-1.5M291.01 17.5v4M291.01 317.5v-4M291.01 317.5v2.5M291.01 477.5v-2.5M300.97 17.5v2M300.97 317.5v-2M300.97 317.5v1.5M300.97 477.5v-1.5M310.94 17.5v4M310.94 317.5v-4M310.94 317.5v2.5M310.94 477.5v-2.5M320.90 17.5v2M320.90 317.5v-2M320.90 317.5v1.5M320.90 477.5v-1.5M330.86 17.5v4M330.86 317.5v-4M330.86 317.5v2.5M330.86 477.5v-2.5M340.83 17.5v2M340.83 317.5v-2M340.83 317.5v1.5M340.83 477.5v-1.5M350.79 17.5v7M350.79 317.5v-7M350.79 317.5v5M350.79 477.5v-5M360.75 17.5v2M360.75 317.5v-2M360.75 317.5v1.5M360.75 477.5v-1.5M370.72 17.5v4M370.72 317.5v-4M370.72 317.5v2.5M370.72 477.5v-2.5M45.5 314.47h6M371.5 314.47h-6M45.5 309.24h6M371.5 309.24h-6M45.5 304.97h6M371.5 304.97h-6M45.5 301.36h6M371.5 301.36h-6M45.5 298.23h6M371.5 298.23h-6M45.5 295.47h6M371.5 295.47h-6M45.5 293.00h12M371.5 293.00h-12M45.5 276.76h6M371.5 276.76h-6M45.5 267.25h6M371.5 267.25h-6M45.5 260.51h6M371.5 260.51h-6M45.5 255.28h6M371.5 255.28h-6M45.5 251.01h6M371.5 251.01h-6M45.5 247.40h6M371.5 247.40h-6M45.5 244.27h6M371.5 244.27h-6M45.5 241.51h6M371.5 241.51h-6M45.5 239.04h12M371.5 239.04h-12M45.5 222.80h6M371.5 222.80h-6M45.5 213.29h6M371.5 213.29h-6M45.5 206.55h6M371.5 206.55h-6M45.5 201.32h6M371.5 201.32h-6M45.5 197.05h6M371.5 197.05h-6M45.5 193.44h6M371.5 193.44h-6M45.5 190.31h6M371.5 190.31h-6M45.5 187.55h6M371.5 187.55h-6M45.5 185.08h12M371.5 185.08h-12M45.5 168.84h6M371.5 168.84h-6M45.5 159.33h6M371.5 159.33h-6M45.5 152.59h6M371.5 152.59h-6M45.5 147.36h6M371.5 147.36h-6M45.5 143.09h6M371.5 143.09h-6M45.5 139.48h6M371.5 139.48h-6M45.5 136.35h6M371.5 136.35h-6M45.5 133.59h6M371.5 133.59h-6M45.5 131.12h12M371.5 131.12h-12M45.5 114.88h6M371.5 114.88h-6M45.5 105.37h6M371.5 105.37h-6M45.5 98.63h6M371.5 98.63h-6M45.5 93.40h6M371.5 93.40h-6M45.5 89.13h6M371.5 89.13h-6M45.5 85.52h6M371.5 85.52h-6M45.5 82.39h6M371.5 82.39h-6M45.5 79.63h6M371.5 79.63h-6M45.5 77.16h12M371.5 77.16h-12M45.5 60.92h6M371.5 60.92h-6M45.5 51.41h6M371.5 51.41h-6M45.5 44.67h6M371.5 44.67h-6M45.5 39.44h6M371.5 39.44h-6M45.5 35.17h6M371.5 35.17h-6M45.5 31.56h6M371.5 31.56h-6M45.5 28.43h6M371.5 28.43h-6M45.5 25.67h6M371.5 25.67h-6M45.5 23.20h12M371.5 23.20h-12M45.5 458.39h8M371.5 458.39h-8M45.5 442.42h6M371.5 442.42h-6M45.5 428.93h6M371.5 428.93h-6M45.5 417.24h6M371.5 417.24h-6M45.5 406.92h6M371.5 406.92h-6M45.5 397.70h8M371.5 397.70h-8M45.5 389.36h6M371.5 389.36h-6M45.5 381.74h6M371.5 381.74h-6M45.5 374.73h6M371.5 374.73h-6M45.5 368.24h6M371.5 368.24h-6M45.5 362.20h6M371.5 362.20h-6M45.5 356.55h6M371.5 356.55h-6M45.5 351.24h6M371.5 351.24h-6M45.5 346.24h6M371.5 346.24h-6M45.5 341.50h6M371.5 341.50h-6M45.5 337.01h8M371.5 337.01h-8M45.5 332.74h6M371.5 332.74h-6M45.5 328.67h6M371.5 328.67h-6M45.5 324.78h6M371.5 324.78h-6M45.5 321.05h6M371.5 321.05h-6"/>
</g>
<g font-family="Liberation Sans, sans-serif" fill="#000" font-size="10.5" text-anchor="end">
<text x="34.6" y="28.1">10</text><text x="39.0" y="23.4" font-size="6.3">4</text>
<text x="34.6" y="82.1">10</text><text x="39.0" y="77.4" font-size="6.3">3</text>
<text x="34.6" y="136.0">10</text><text x="39.0" y="131.3" font-size="6.3">2</text>
<text x="40.2" y="189.1">10</text>
<text x="40.2" y="243.0">1</text>
<text x="33.8" y="297.9">10</text><text x="40.2" y="293.0" font-size="6.5">−1</text>
<text x="38.8" y="340.6" font-size="11">2</text>
<text x="38.8" y="401.3" font-size="11">1</text>
<text x="38.8" y="462.0" font-size="11">0.5</text>
</g>
<g font-family="Liberation Sans, sans-serif" fill="#000" font-size="11" text-anchor="middle">
<text x="51.9" y="489.3" font-size="11.5">0</text>
<text x="151.5" y="489.3" font-size="11.5">1</text>
<text x="251.2" y="489.3" font-size="11.5">2</text>
<text x="350.8" y="489.3" font-size="11.5">3</text>
</g>
<text font-family="Liberation Sans, sans-serif" font-size="12.2" x="50.8" y="14">7000 GeV pp</text>
<text font-family="Liberation Sans, sans-serif" font-size="12.2" x="367.6" y="14" text-anchor="end">Top (parton level)</text>
<text font-family="Liberation Sans, sans-serif" font-size="10.2" x="163" y="43">Δϕ (ttbar) (pTtt &lt; 50)</text>
<text font-family="Liberation Sans, sans-serif" font-size="8" fill="#999" x="173.8" y="301.8">(MC_FBA_TTBAR)</text>
<text font-family="Liberation Sans, sans-serif" font-size="9.4" fill="#555" transform="translate(379.9,127.5) rotate(-90)">Rivet 4.1.0, ≥ 100k events</text>
<text font-family="Liberation Sans, sans-serif" font-size="9.4" fill="#555" transform="translate(380.6,313.8) rotate(-90)">mcplots.cern.ch [arXiv:2401.10621]</text>
<text font-family="Liberation Sans, sans-serif" font-size="9.05" fill="#000" transform="translate(16.8,452.9) rotate(-90)">Ratio to Herwig 7.2.1 default</text>
<path d="M64 62.2H88" stroke="#2b9718" stroke-width="1" stroke-dasharray="2 2.2" opacity="0.8"/>
<path d="M73.40 59.20h6.00v6.00h-6.00Z" stroke="#2b9718" stroke-width="1.1" fill="none"/>
<path d="M64 75.3H88" stroke="#0000ee" stroke-width="1" opacity="0.8"/>
<path d="M73.80 77.86L79.60 77.86L76.70 72.70Z" fill="#0000ee"/>
<path d="M64 88H88" stroke="#ff0000" stroke-width="1" stroke-dasharray="1.2 1.2" opacity="0.8"/>
<path d="M76.50 84.50L79.10 87.90L76.50 91.30L73.90 87.90Z" fill="#ff0000"/>
<g font-family="Liberation Sans, sans-serif" font-size="9.45" fill="#000">
<text x="94" y="65.2">Herwig 7.2.1 default</text>
<text x="94" y="77.7">Pythia 8.165 default</text>
<text x="94" y="90.2">Sherpa 2.2.9 default</text>
</g>
</svg>
</body></html>
